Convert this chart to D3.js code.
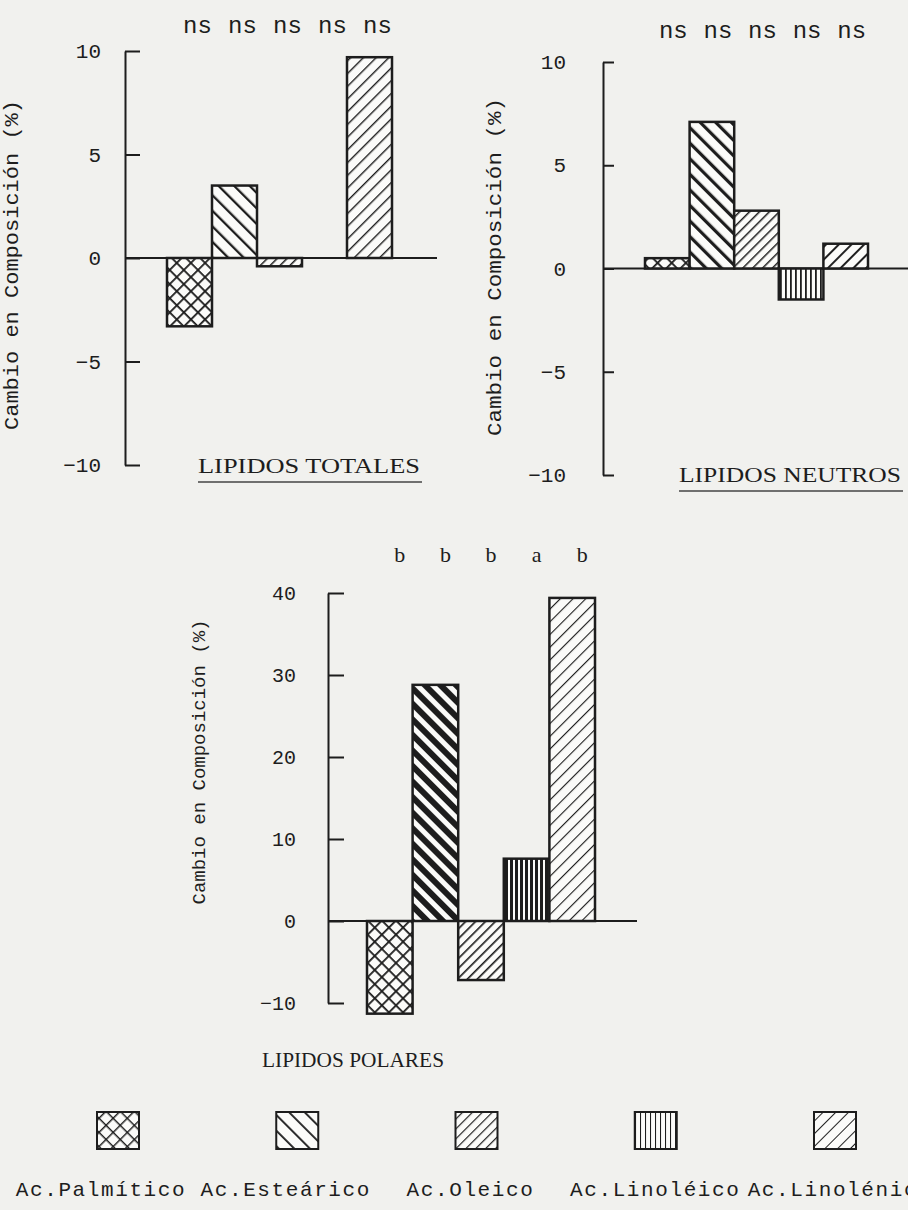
<!DOCTYPE html>
<html>
<head>
<meta charset="utf-8">
<script src="https://cdn.jsdelivr.net/npm/d3@7"></script>
<style>
	body { margin: 0; background: #f1f1ee; }
	svg { display: block; }
</style>
</head>
<body>
<div id="figure"></div>
<script>

// data
let categories = ["Ac.Palmítico", "Ac.Esteárico", "Ac.Oleico", "Ac.Linoléico", "Ac.Linolénico"];
let totalesValues = [-3.3, 3.5, -0.4, 0, 9.7];
let neutrosValues = [0.5, 7.1, 2.8, -1.5, 1.2];
let polaresValues = [-11.3, 28.8, -7.2, 7.6, 39.4];
let totalesMarks = ["ns", "ns", "ns", "ns", "ns"];
let neutrosMarks = ["ns", "ns", "ns", "ns", "ns"];
let polaresMarks = ["b", "b", "b", "a", "b"];
let ticksSmall = [-10, -5, 0, 5, 10];
let ticksLarge = [-10, 0, 10, 20, 30, 40];
let yTitle = "Cambio en Composición (%)";

let ink = "#1d1d1d";
let mono = "'Liberation Mono', 'DejaVu Sans Mono', monospace";
let serif = "'Liberation Serif', 'DejaVu Serif', serif";

let svg = d3.select("#figure")
	.append("svg")
	.attr("width", 908)
	.attr("height", 1210);

let defs = svg.append("defs");

// hatch fills, one per acid; weights let each panel look like the scan
function addPatterns(prefix, weights) {
	let specs = [
		{ cross: true, size: 10, width: 1.8, rotate: 45 },
		{ cross: false, size: 11, width: 2.3, rotate: -45 },
		{ cross: false, size: 7, width: 1.5, rotate: 45 },
		{ cross: false, size: 5, width: 1.5, rotate: 0 },
		{ cross: false, size: 9, width: 1.4, rotate: 45 }
	];
	specs.forEach(function (s, i) {
		let w = s.width * weights[i];
		let p = defs.append("pattern")
			.attr("id", prefix + i)
			.attr("patternUnits", "userSpaceOnUse")
			.attr("width", s.size)
			.attr("height", s.size)
			.attr("patternTransform", `rotate(${s.rotate})`);
		p.append("rect").attr("width", s.size).attr("height", s.size).attr("fill", "#fbfbf9");
		p.append("rect").attr("width", w).attr("height", s.size).attr("fill", ink);
		if (s.cross)
			p.append("rect").attr("width", s.size).attr("height", w).attr("fill", ink);
	});
}

function drawPanel(cfg) {
	let g = svg.append("g");
	addPatterns(cfg.id, cfg.weights);

	let x = d3.scaleBand().domain(categories).range(cfg.xRange).padding(0);
	let y = d3.scaleLinear().domain(cfg.domain).range(cfg.yRange);

	// baseline at zero
	g.append("line")
		.attr("x1", cfg.axisX).attr("x2", cfg.baseEnd)
		.attr("y1", y(0)).attr("y2", y(0))
		.attr("stroke", ink).attr("stroke-width", 2);

	let bars = categories.map((c, i) => ({ c: c, v: cfg.values[i], i: i })).filter(d => d.v != 0);
	g.selectAll("rect.bar")
		.data(bars)
		.join("rect")
		.attr("class", "bar")
		.attr("x", d => x(d.c))
		.attr("width", x.bandwidth())
		.attr("y", d => y(Math.max(0, d.v)))
		.attr("height", d => Math.abs(y(d.v) - y(0)))
		.attr("fill", d => `url(#${cfg.id}${d.i})`)
		.attr("stroke", ink)
		.attr("stroke-width", 2.5);

	g.append("g")
		.attr("transform", `translate(${cfg.axisX}, 0)`)
		.call(d3.axisLeft(y)
			.tickValues(cfg.ticks)
			.tickSizeInner(-cfg.tickLen)
			.tickSizeOuter(0)
			.tickPadding(cfg.pad)
			.tickFormat(d3.format("d")))
		.call(a => {
			a.attr("font-family", mono).attr("font-size", cfg.tickFont);
			a.select(".domain").attr("stroke", ink).attr("stroke-width", 2);
			a.selectAll(".tick line").attr("stroke", ink).attr("stroke-width", 2);
			a.selectAll(".tick text").attr("fill", ink);
		});

	// significance marks above the bars
	g.selectAll("text.mark")
		.data(cfg.marks)
		.join("text")
		.attr("class", "mark")
		.attr("x", (d, i) => x(categories[i]) + x.bandwidth() / 2 + cfg.markDx)
		.attr("y", cfg.markY)
		.attr("text-anchor", "middle")
		.attr("font-family", cfg.markFamily)
		.attr("font-size", cfg.markFont)
		.attr("fill", ink)
		.text(d => d);

	g.append("text")
		.attr("transform", `translate(${cfg.axisX + cfg.titleDx}, ${cfg.titleY}) rotate(-90)`)
		.attr("text-anchor", "middle")
		.attr("font-family", mono)
		.attr("font-size", cfg.titleFont)
		.attr("textLength", cfg.titleLen)
		.attr("lengthAdjust", "spacingAndGlyphs")
		.attr("fill", ink)
		.text(yTitle);

	g.append("text")
		.attr("x", cfg.nameX)
		.attr("y", cfg.nameY)
		.attr("text-anchor", "middle")
		.attr("font-family", serif)
		.attr("font-size", 20)
		.attr("textLength", cfg.nameLen)
		.attr("lengthAdjust", "spacingAndGlyphs")
		.attr("fill", ink)
		.text(cfg.name);

	if (cfg.underline)
		g.append("line")
			.attr("x1", cfg.nameX - cfg.nameLen / 2).attr("x2", cfg.nameX + cfg.nameLen / 2 + 2)
			.attr("y1", cfg.nameY + 9).attr("y2", cfg.nameY + 9)
			.attr("stroke", "#444").attr("stroke-width", 1.6);
}

drawPanel({
	id: "tot", values: totalesValues, marks: totalesMarks, ticks: ticksSmall,
	domain: [-10, 10], yRange: [465, 51], xRange: [167, 392],
	axisX: 125, baseEnd: 437, tickLen: 15, pad: 24, tickFont: 21,
	markY: 33, markDx: 8, markFont: 24, markFamily: mono,
	titleDx: -107, titleY: 265, titleFont: 21, titleLen: 330,
	name: "LIPIDOS TOTALES", nameX: 309, nameY: 473, nameLen: 222, underline: true,
	weights: [1, 1, 1, 1, 1]
});

drawPanel({
	id: "neu", values: neutrosValues, marks: neutrosMarks, ticks: ticksSmall,
	domain: [-10, 10], yRange: [475, 62], xRange: [645, 868],
	axisX: 603, baseEnd: 908, tickLen: 11, pad: 37, tickFont: 21,
	markY: 38, markDx: 6, markFont: 24, markFamily: mono,
	titleDx: -102, titleY: 267, titleFont: 21, titleLen: 338,
	name: "LIPIDOS NEUTROS", nameX: 790, nameY: 482, nameLen: 222, underline: true,
	weights: [1, 1.4, 1, 1.2, 1.4]
});

drawPanel({
	id: "pol", values: polaresValues, marks: polaresMarks, ticks: ticksLarge,
	domain: [-10, 40], yRange: [1003, 593], xRange: [367, 595],
	axisX: 328, baseEnd: 637, tickLen: 16, pad: 32, tickFont: 20,
	markY: 562, markDx: 10, markFont: 22, markFamily: serif,
	titleDx: -123, titleY: 762, titleFont: 18, titleLen: 285,
	name: "LIPIDOS POLARES", nameX: 353, nameY: 1067, nameLen: 182, underline: false,
	weights: [1, 2.6, 1.1, 2, 0.8]
});

// legend
addPatterns("leg", [0.8, 0.8, 0.8, 0.7, 0.7]);
let legBox = d3.scalePoint().domain(categories).range([118, 835]);
let legText = d3.scalePoint().domain(categories).range([101, 840]);

let legend = svg.append("g");
legend.selectAll("rect")
	.data(categories)
	.join("rect")
	.attr("x", d => legBox(d) - 21)
	.attr("y", 1112)
	.attr("width", 42)
	.attr("height", 37)
	.attr("fill", (d, i) => `url(#leg${i})`)
	.attr("stroke", ink)
	.attr("stroke-width", 2);

legend.selectAll("text")
	.data(categories)
	.join("text")
	.attr("x", d => legText(d))
	.attr("y", 1196)
	.attr("text-anchor", "middle")
	.attr("font-family", mono)
	.attr("font-size", 21)
	.attr("letter-spacing", 1.6)
	.attr("fill", ink)
	.text(d => d);

</script>
</body>
</html>
